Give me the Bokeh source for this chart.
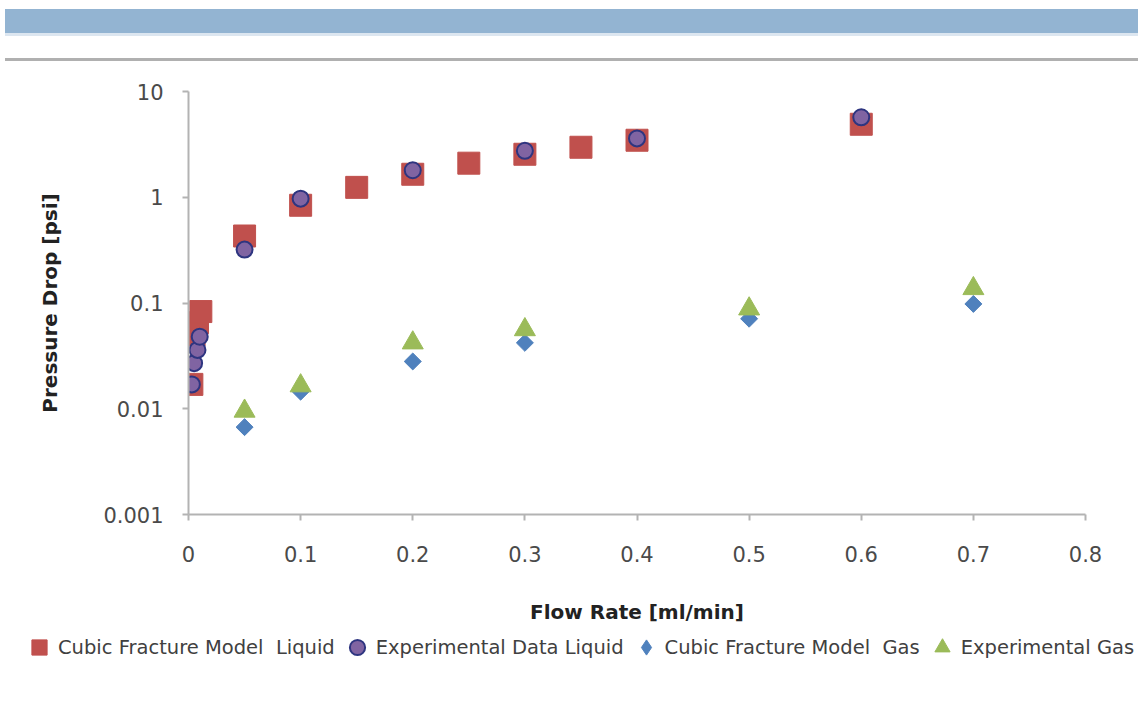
from bokeh.plotting import figure
from bokeh.models import Range1d, FixedTicker, CustomJSTickFormatter, Legend, LegendItem, Div
from bokeh.layouts import column
from bokeh.embed import file_html
from bokeh.resources import INLINE
import math

# ---- data ----
x_liq_model = [0.003, 0.005, 0.008, 0.011, 0.05, 0.1, 0.15, 0.2, 0.25, 0.3, 0.35, 0.4, 0.6]
y_liq_model = [0.017, 0.05, 0.065, 0.083, 0.43, 0.84, 1.24, 1.65, 2.1, 2.55, 2.97, 3.46, 4.9]

x_liq_exp = [0.003, 0.005, 0.008, 0.01, 0.05, 0.1, 0.2, 0.3, 0.4, 0.6]
y_liq_exp = [0.017, 0.027, 0.036, 0.048, 0.32, 0.97, 1.8, 2.75, 3.6, 5.7]

x_gas_model = [0.05, 0.1, 0.2, 0.3, 0.5, 0.7]
y_gas_model = [0.0067, 0.0145, 0.028, 0.042, 0.071, 0.098]

x_gas_exp = [0.05, 0.1, 0.2, 0.3, 0.5, 0.7]
y_gas_exp = [0.0095, 0.0165, 0.042, 0.056, 0.088, 0.137]

series_names = ["Cubic Fracture Model  Liquid", "Experimental Data Liquid",
                "Cubic Fracture Model  Gas", "Experimental Gas"]

x_ticks = [0, 0.1, 0.2, 0.3, 0.4, 0.5, 0.6, 0.7, 0.8]
y_ticks = [0.001, 0.01, 0.1, 1, 10]

x_title = "Flow Rate [ml/min]"
y_title = "Pressure Drop [psi]"

FONT = "DejaVu Sans"
W = 1136

styles_list = [
    dict(marker="square", size=22, fill_color="#c0504d", line_color="#c0504d", line_width=1),
    dict(marker="circle", size=16, fill_color="#8064a2", line_color="#2e3580", line_width=2),
    dict(marker="square", angle=math.pi / 4, size=12, fill_color="#4f81bd",
         line_color="#4f81bd", line_width=1),
    dict(marker="triangle", size=21, fill_color="#9bbb59", line_color="#9bbb59", line_width=1),
]
legend_styles = [dict(styles_list[0]), dict(styles_list[1]),
                 dict(marker="diamond", fill_color="#4f81bd", line_color="#4f81bd", line_width=1),
                 dict(styles_list[3])]
series_x = [x_liq_model, x_liq_exp, x_gas_model, x_gas_exp]
series_y = [y_liq_model, y_liq_exp, y_gas_model, y_gas_exp]

# ---- main figure ----
p = figure(width=W, height=567, x_range=Range1d(0, 0.8), y_range=Range1d(0.001, 10),
           y_axis_type="log", output_backend="svg", toolbar_location=None,
           min_border_left=188, min_border_right=W - 188 - 897, min_border_top=30,
           min_border_bottom=114)
p.outline_line_color = None
p.xgrid.grid_line_color = None
p.ygrid.grid_line_color = None
p.background_fill_color = "white"
p.border_fill_color = "white"

for xs, ys, st in zip(series_x, series_y, styles_list):
    p.scatter(xs, ys, **st)

for ax in (p.xaxis, p.yaxis):
    ax.axis_line_color = "#b3b3b3"
    ax.axis_line_width = 2
    ax.major_tick_line_color = "#b3b3b3"
    ax.major_tick_line_width = 2
    ax.major_tick_in = 0
    ax.major_tick_out = 6
    ax.minor_tick_line_color = None
    ax.major_label_text_font = FONT
    ax.major_label_text_font_size = "21px"
    ax.major_label_text_color = "#4a4a4a"
    ax.axis_label_text_font = FONT
    ax.axis_label_text_font_size = "20px"
    ax.axis_label_text_font_style = "bold"
    ax.axis_label_text_color = "#222222"

p.xaxis.ticker = FixedTicker(ticks=x_ticks)
p.yaxis.ticker = FixedTicker(ticks=y_ticks)
p.xaxis.formatter = CustomJSTickFormatter(code="return tick.toString();")
p.yaxis.formatter = CustomJSTickFormatter(code="return tick.toString();")
p.xaxis.axis_label = x_title
p.yaxis.axis_label = y_title
p.xaxis.major_label_standoff = 25
p.xaxis.axis_label_standoff = 35
p.yaxis.major_label_standoff = 19
p.yaxis.axis_label_standoff = 38

# ---- legend strip (its series renderers are hidden; only the legend shows) ----
lg = figure(width=W, height=38, x_range=Range1d(0, 1), y_range=Range1d(0, 1),
            x_axis_location=None, y_axis_location=None, min_border=0,
            toolbar_location=None, output_backend="svg")
lg.frame_align = False
lg.outline_line_color = None
lg.grid.visible = False
lg.background_fill_color = "white"
lg.border_fill_color = "white"
items = []
for name, xs, ys, st in zip(series_names, series_x, series_y, legend_styles):
    r = lg.scatter(xs, ys, **st)
    r.visible = False
    items.append(LegendItem(label=name, renderers=[r]))
legend = Legend(items=items, orientation="horizontal", location=(20, 0),
                glyph_width=38, glyph_height=38, label_standoff=-5, spacing=3,
                padding=0, margin=0, border_line_color=None, background_fill_alpha=0,
                label_text_font=FONT, label_text_font_size="19.5px",
                label_text_color="#404040")
lg.add_layout(legend, "center")

# ---- slide decorations ----
top_bar = Div(text="", width=1133, height=24, margin=(9, 0, 0, 5),
              styles={"background-color": "#93b4d2"})
top_edge = Div(text="", width=1133, height=3, margin=(0, 0, 0, 5),
               styles={"background-color": "#dce6f0"})
rule = Div(text="", width=1133, height=3, margin=(22, 0, 0, 5),
           styles={"background-color": "#b0b0b0"})

layout = column(top_bar, top_edge, rule, p, lg, spacing=0)
open("out.html", "w").write(file_html(layout, INLINE))
